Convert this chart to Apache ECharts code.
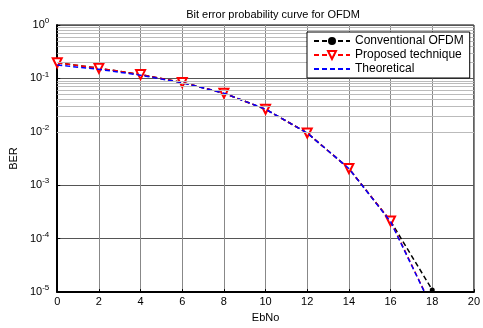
<!DOCTYPE html>
<html>
<head>
<meta charset="utf-8">
<script src="https://cdn.jsdelivr.net/npm/echarts@6/dist/echarts.min.js"></script>
<style>
  html, body { margin: 0; padding: 0; background: #fff; }
  #chart { width: 483px; height: 328px; }
</style>
</head>
<body>
<div id="chart"></div>
<script>
var ebno = [0, 2, 4, 6, 8, 10, 12, 14, 16, 18];
var conventional = [0.196, 0.155, 0.118, 0.084, 0.053, 0.0265, 0.0095, 0.00206, 0.000214, 0.000011];
var proposed = [0.196, 0.155, 0.118, 0.084, 0.053, 0.0265, 0.0095, 0.00206, 0.000214, 0.0000051];
var theoretical = [0.178, 0.148, 0.115, 0.083, 0.053, 0.0265, 0.0095, 0.00206, 0.000208, 0.0000050];

var font = 'Liberation Sans, Arial, sans-serif';

function pairs(ys) {
    return ebno.map(function (x, i) { return [x, ys[i]]; });
}

// minor grid lines (2..9 x 10^k)
var minorLines = [];
for (var k = -5; k < 0; k++) {
    for (var m = 2; m <= 9; m++) {
        minorLines.push({ yAxis: m * Math.pow(10, k) });
    }
}

var chart = echarts.init(document.getElementById('chart'));
var option = {
    animation: false,
    backgroundColor: '#fff',
    title: {
        text: 'Bit error probability curve for OFDM',
        left: 268,
        textAlign: 'center',
        top: 4,
        textStyle: { fontFamily: font, fontSize: 11, fontWeight: 'normal', color: '#000' }
    },
    legend: {
        orient: 'vertical',
        left: 307,
        top: 32,
        z: 20,
        padding: [3, 6, 3, 6],
        itemGap: 2,
        itemWidth: 36,
        itemHeight: 10,
        backgroundColor: '#fff',
        borderColor: '#000',
        borderWidth: 1,
        borderRadius: 0,
        textStyle: { fontFamily: font, fontSize: 12, color: '#000' },
        data: [
            'Conventional OFDM',
            'Proposed technique',
            { name: 'Theoretical', itemStyle: { color: 'rgba(0,0,0,0)', borderWidth: 0 } }
        ]
    },
    grid: { left: 55, right: 2, top: 25, bottom: 25, containLabel: false,
        show: true, borderColor: '#000', borderWidth: 1 },
    xAxis: {
        type: 'value',
        min: 0, max: 20, interval: 2,
        name: 'EbNo',
        nameLocation: 'middle',
        nameGap: 17,
        nameTextStyle: { fontFamily: font, fontSize: 11, color: '#000' },
        axisLine: { onZero: false, lineStyle: { color: '#000', width: 2 } },
        axisTick: { inside: true, length: 3, lineStyle: { color: '#000' } },
        axisLabel: { fontFamily: font, fontSize: 11, color: '#000', margin: 4 },
        splitLine: { show: true, lineStyle: { color: '#888', width: 1 } }
    },
    yAxis: {
        type: 'log',
        logBase: 10,
        min: 1e-5, max: 1,
        name: 'BER',
        nameLocation: 'middle',
        nameGap: 37,
        nameTextStyle: { fontFamily: font, fontSize: 11, color: '#000' },
        axisLine: { lineStyle: { color: '#000', width: 2 } },
        axisTick: { inside: true, length: 3, lineStyle: { color: '#000' } },
        axisLabel: {
            fontFamily: font, fontSize: 11, color: '#000', margin: 8,
            formatter: function (v) {
                var e = Math.round(Math.log10(v));
                return '10{sup|' + e + '}';
            },
            rich: { sup: { fontSize: 8, verticalAlign: 'top', padding: [0, 0, 8, 0], fontFamily: font, color: '#000' } }
        },
        splitLine: { show: true, lineStyle: { color: '#555', width: 1 } }
    },
    series: [
        {
            name: 'Conventional OFDM',
            type: 'line',
            data: pairs(conventional),
            symbol: 'circle',
            symbolSize: 5,
            itemStyle: { color: '#000' },
            lineStyle: { color: '#000', width: 1.5, type: [5, 3] },
            markLine: {
                silent: true,
                symbol: 'none',
                label: { show: false },
                lineStyle: { color: '#bbb', width: 1, type: 'solid' },
                data: minorLines
            },
            z: 2
        },
        {
            name: 'Proposed technique',
            type: 'line',
            data: pairs(proposed),
            symbol: 'triangle',
            symbolRotate: 180,
            symbolSize: 9,
            itemStyle: { color: '#fff', borderColor: '#f00', borderWidth: 2 },
            lineStyle: { color: '#f00', width: 1.5, type: [5, 3] },
            z: 3
        },
        {
            name: 'Theoretical',
            type: 'line',
            data: pairs(theoretical),
            symbol: 'none',
            itemStyle: { color: '#00f' },
            lineStyle: { color: '#00f', width: 1.5, type: [5, 3] },
            z: 4
        }
    ]
};
chart.setOption(option);
</script>
</body>
</html>
